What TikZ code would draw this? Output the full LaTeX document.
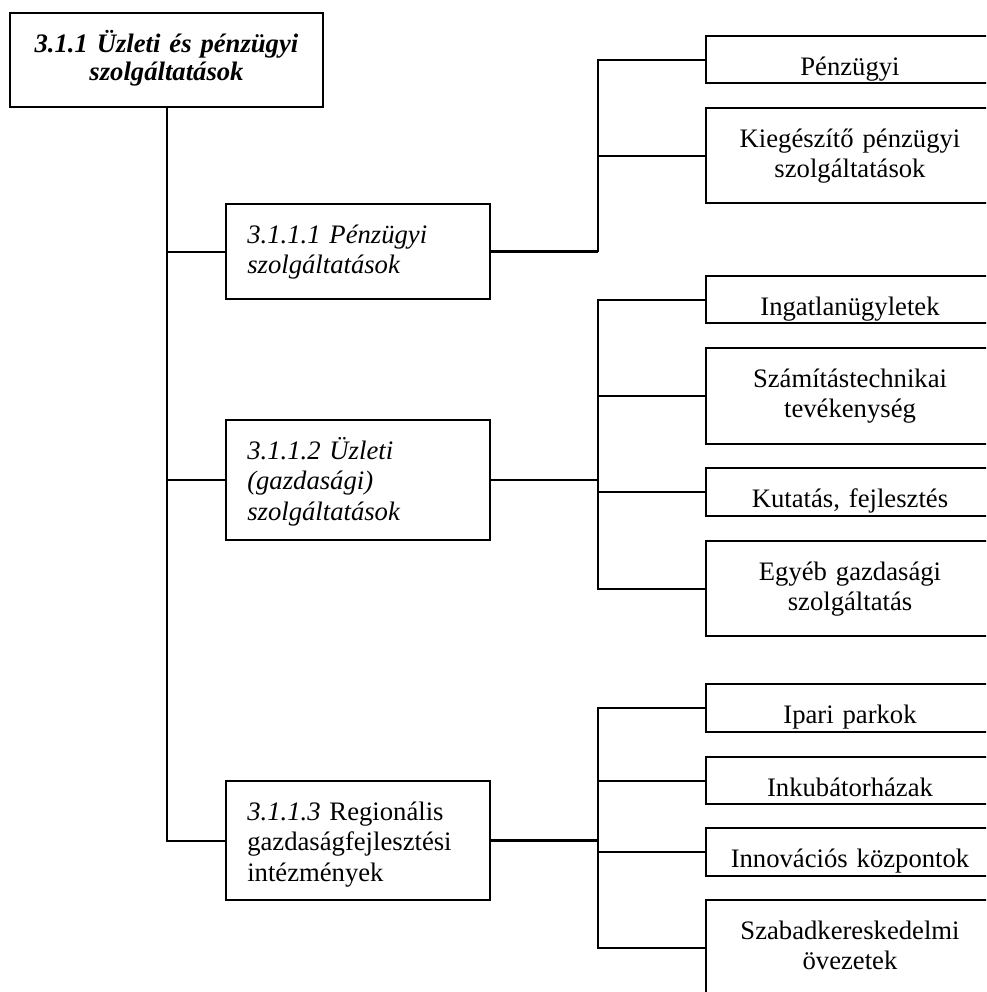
\documentclass[tikz,border=0pt]{standalone}
\usepackage{fontspec}
\setmainfont{Liberation Serif}
\usetikzlibrary{calc}
\begin{document}
\begin{tikzpicture}[x=0.75pt,y=-0.75pt,
  bx/.style 2 args={draw, line width=1.5pt, inner sep=0pt, outer sep=0pt,
    anchor=north west, minimum width={#1*0.75pt}, minimum height={#2*0.75pt}},
  link/.style={line width=1.5pt},
  stub/.style={line width=2.2pt},
  toptext/.style={anchor=base, inner sep=0pt, text width=234pt, align=center,
    font=\fontsize{20}{21}\selectfont\bfseries\itshape},
  midtext/.style={anchor=base west, inner sep=0pt, text width=172pt, align=left,
    font=\fontsize{20}{23}\selectfont},
  leaftext/.style={anchor=base, inner sep=0pt, text width=216pt, align=center,
    font=\fontsize{20}{23}\selectfont},
]
\useasboundingbox (0,0) rectangle (986,992);
\clip (0,0) rectangle (986,992);

% root
\node[bx={313}{94}] (T) at (10,13) {};
\node[toptext] (Tt) at ($(T.north)+(0,39)$) {3.1.1 Üzleti és pénzügyi\\szolgáltatások};

% second level
\node[bx={264}{95}]  (B1) at (226,204) {};
\node[bx={264}{120}] (B2) at (226,420) {};
\node[bx={264}{119}] (B3) at (226,781) {};
\node[midtext] (B1t) at ($(B1.north west)+(21,39)$) {\itshape 3.1.1.1 Pénzügyi\\szolgáltatások};
\node[midtext] (B2t) at ($(B2.north west)+(21,39)$) {\itshape 3.1.1.2 Üzleti\\(gazdasági)\\szolgáltatások};
\node[midtext] (B3t) at ($(B3.north west)+(21,39)$) {{\itshape 3.1.1.3} Regionális\\gazdaságfejlesztési\\intézmények};

% leaves
\node[bx={288}{47}] (L1)  at (706,36)  {};
\node[bx={288}{95}] (L2)  at (706,108) {};
\node[bx={288}{47}] (L3)  at (706,276) {};
\node[bx={288}{96}] (L4)  at (706,348) {};
\node[bx={288}{48}] (L5)  at (706,468) {};
\node[bx={288}{95}] (L6)  at (706,541) {};
\node[bx={288}{48}] (L7)  at (706,684) {};
\node[bx={288}{47}] (L8)  at (706,757) {};
\node[bx={288}{48}] (L9)  at (706,828) {};
\node[bx={288}{96}] (L10) at (706,900) {};

% leaf labels, cut off at the lower edge of their boxes
\foreach \n/\t in {L1/Pénzügyi, L2/{Kiegészítő pénzügyi\\szolgáltatások},
    L3/Ingatlanügyletek, L4/{Számítástechnikai\\tevékenység},
    L5/{Kutatás, fejlesztés}, L6/{Egyéb gazdasági\\szolgáltatás},
    L7/Ipari parkok, L8/Inkubátorházak, L9/Innovációs központok,
    L10/{Szabadkereskedelmi\\övezetek}} {
  \begin{scope}
    \clip (\n.south west) rectangle (\n.north east);
    \node[leaftext] (\n t) at ($(\n.north)+(0,39)$) {\t};
  \end{scope}
}

% trunk
\draw[link] (T.south) |- (B1.west);
\draw[link] (T.south) |- (B2.west);
\draw[link] (T.south) |- (B3.west);

% branches
\draw[stub] (B1.east) -- ++(108,0) coordinate (j1);
\draw[link] (j1) |- (L1.west);
\draw[link] (j1) |- (L2.west);

\draw[stub] (B2.east) -- ++(108,0) coordinate (j2);
\draw[link] (j2) |- (L3.west);
\draw[link] (j2) |- (L4.west);
\draw[link] (j2) |- (L5.west);
\draw[link] (j2) |- (L6.west);

\draw[stub] (B3.east) -- ++(108,0) coordinate (j3);
\draw[link] (j3) |- (L7.west);
\draw[link] (j3) |- (L8.west);
\draw[link] (j3) |- (L9.west);
\draw[link] (j3) |- (L10.west);
\end{tikzpicture}
\end{document}
